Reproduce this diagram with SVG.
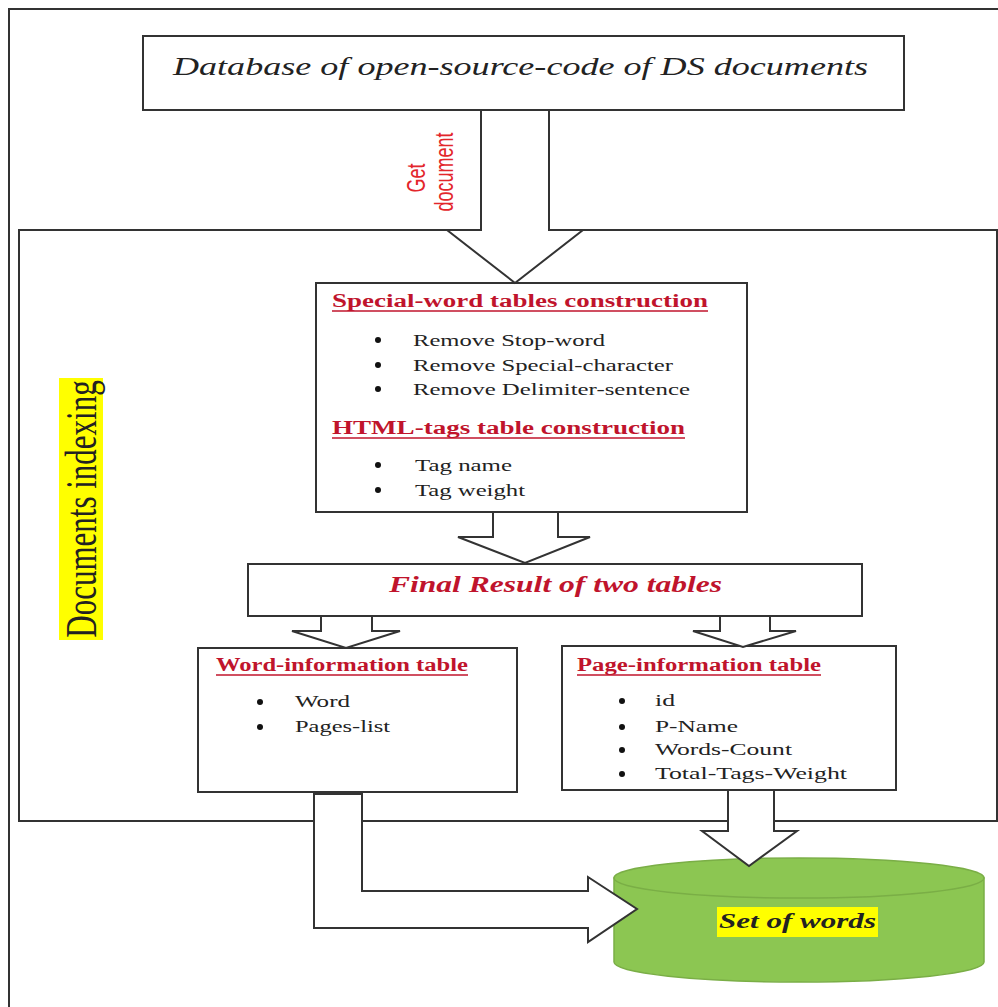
<svg xmlns="http://www.w3.org/2000/svg" width="998" height="1007" viewBox="0 0 998 1007">
<style>
.frame{fill:none;stroke:#333;stroke-width:2}
.box{fill:#fff;stroke:#333;stroke-width:2}
.arrow{fill:#fff;stroke:#333;stroke-width:2;stroke-linejoin:miter}
.body{font-family:"Liberation Serif",serif;font-size:16px;fill:#222}
.head{font-family:"Liberation Serif",serif;font-size:18px;font-weight:bold;fill:#c0142c}
.ul{stroke:#c0142c;stroke-width:1.5}
.dot{fill:#111}
</style>
<rect width="998" height="1007" fill="#fff"/>
<g id="outer-frame"><rect class="frame" x="9" y="9" width="1010" height="1020"/></g>
<g id="documents-indexing">
  <rect class="frame" x="19" y="230" width="978" height="591"/>
  <rect x="59" y="378" width="44" height="262" fill="#ffff00"/>
  <text transform="translate(96,509) scale(1.45,1) rotate(-90)" text-anchor="middle" font-family="Liberation Serif, serif" font-size="31" fill="#222">Documents indexing</text>
</g>
<g id="database">
  <rect class="box" x="143" y="36" width="761" height="74"/>
  <text x="173" y="75" font-family="Liberation Serif, serif" font-style="italic" font-size="25" fill="#222" textLength="695" lengthAdjust="spacingAndGlyphs">Database of open-source-code of DS documents</text>
</g>
<g id="special-word">
  <rect class="box" x="316" y="283" width="431" height="229"/>
  <text class="head" x="332" y="307" textLength="376" lengthAdjust="spacingAndGlyphs">Special-word tables construction</text>
  <line class="ul" x1="332" y1="311" x2="708" y2="311"/>
  <circle class="dot" cx="378" cy="340" r="3"/>
  <circle class="dot" cx="378" cy="365" r="3"/>
  <circle class="dot" cx="378" cy="389" r="3"/>
  <text class="body" x="413" y="346" textLength="192" lengthAdjust="spacingAndGlyphs">Remove Stop-word</text>
  <text class="body" x="413" y="371" textLength="260" lengthAdjust="spacingAndGlyphs">Remove Special-character</text>
  <text class="body" x="413" y="395" textLength="277" lengthAdjust="spacingAndGlyphs">Remove Delimiter-sentence</text>
  <text class="head" x="332" y="434" textLength="353" lengthAdjust="spacingAndGlyphs">HTML-tags table construction</text>
  <line class="ul" x1="332" y1="438" x2="685" y2="438"/>
  <circle class="dot" cx="378" cy="465" r="3"/>
  <circle class="dot" cx="378" cy="490" r="3"/>
  <text class="body" x="415" y="471" textLength="97" lengthAdjust="spacingAndGlyphs">Tag name</text>
  <text class="body" x="415" y="496" textLength="110" lengthAdjust="spacingAndGlyphs">Tag weight</text>
</g>
<g id="final-result">
  <rect class="box" x="248" y="564" width="614" height="52"/>
  <text x="389" y="592" font-family="Liberation Serif, serif" font-style="italic" font-weight="bold" font-size="23" fill="#c0142c" textLength="333" lengthAdjust="spacingAndGlyphs">Final Result of two tables</text>
</g>
<g id="word-information">
  <rect class="box" x="198" y="648" width="319" height="144"/>
  <text class="head" x="216" y="671" font-size="17" textLength="252" lengthAdjust="spacingAndGlyphs">Word-information table</text>
  <line class="ul" x1="216" y1="675" x2="468" y2="675"/>
  <circle class="dot" cx="260" cy="702" r="3"/>
  <circle class="dot" cx="260" cy="727" r="3"/>
  <text class="body" x="295" y="707" textLength="55" lengthAdjust="spacingAndGlyphs">Word</text>
  <text class="body" x="295" y="732" textLength="95" lengthAdjust="spacingAndGlyphs">Pages-list</text>
</g>
<g id="page-information">
  <rect class="box" x="562" y="646" width="334" height="144"/>
  <text class="head" x="577" y="671" font-size="17" textLength="244" lengthAdjust="spacingAndGlyphs">Page-information table</text>
  <line class="ul" x1="577" y1="675" x2="821" y2="675"/>
  <circle class="dot" cx="622" cy="701" r="3"/>
  <circle class="dot" cx="622" cy="727" r="3"/>
  <circle class="dot" cx="622" cy="750" r="3"/>
  <circle class="dot" cx="622" cy="774" r="3"/>
  <text class="body" x="655" y="706" textLength="20" lengthAdjust="spacingAndGlyphs">id</text>
  <text class="body" x="655" y="732" textLength="83" lengthAdjust="spacingAndGlyphs">P-Name</text>
  <text class="body" x="655" y="755" textLength="137" lengthAdjust="spacingAndGlyphs">Words-Count</text>
  <text class="body" x="655" y="779" textLength="192" lengthAdjust="spacingAndGlyphs">Total-Tags-Weight</text>
</g>
<g id="set-of-words">
  <path d="M614,878 L614,962 A185,20 0 0 0 984,962 L984,878 Z" fill="#8cc652" stroke="#7aae46" stroke-width="1.5"/>
  <ellipse cx="799" cy="878" rx="185" ry="20" fill="#8cc652" stroke="#7aae46" stroke-width="1.5"/>
  <rect x="717" y="907" width="161" height="30" fill="#ffff00"/>
  <text x="719" y="928" font-family="Liberation Serif, serif" font-style="italic" font-weight="bold" font-size="22" fill="#222" textLength="157" lengthAdjust="spacingAndGlyphs">Set of words</text>
</g>
<g id="connectors">
  <polygon class="arrow" points="481,110 549,110 549,230 583,230 515,283 447,230 481,230"/>
  <text transform="translate(425,178) scale(1.45,1) rotate(-90)" text-anchor="middle" font-family="Liberation Sans, sans-serif" font-size="18" fill="#e3262b">Get</text>
  <text transform="translate(453,172) scale(1.45,1) rotate(-90)" text-anchor="middle" font-family="Liberation Sans, sans-serif" font-size="18" fill="#e3262b">document</text>
  <polygon class="arrow" points="493,512 558,512 558,537 590,537 525,563 458,537 493,537"/>
  <polygon class="arrow" points="321,616 372,616 372,631 400,631 346,648 292,631 321,631"/>
  <polygon class="arrow" points="720,616 770,616 770,631 796,631 743,647 693,631 720,631"/>
  <polygon class="arrow" points="314,794 362,794 362,891 588,891 588,877 637,909 588,942 588,928 314,928"/>
  <polygon class="arrow" points="728,790 774,790 774,831 797,831 749,866 702,831 728,831"/>
</g>
</svg>
